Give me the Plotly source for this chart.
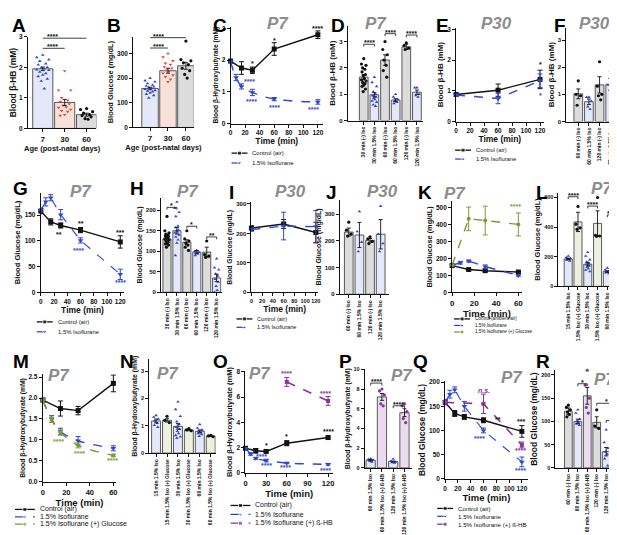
import plotly.graph_objects as go

W, H = 617, 535
FONT = "Liberation Sans, Arial, sans-serif"

BLACK = "#111111"
BLUE = "#2f46d0"
RED = "#d9483b"
OLIVE = "#7e9a33"
PURPLE = "#8b3596"
GREY_FILL = "#dcdcdc"
BLUE_FILL = "#e4e8f8"
RED_FILL = "#f8e1d9"
OLIVE_FILL = "#ecf0df"
PURPLE_FILL = "#eadbef"
TITLE_GREY = "#8d8d8d"

# ---------------- data ----------------
# A / B : age series
ages = ["7", "30", "60"]
a_mean = [1.95, 0.85, 0.45]
a_sem = [0.06, 0.1, 0.05]
a_pts = [
    [2.4, 2.32, 2.25, 2.2, 2.12, 2.08, 2.0, 1.98, 1.95, 1.92, 1.9, 1.85, 1.8, 1.75, 1.7, 1.62, 1.55, 1.3],
    [1.88, 1.25, 1.25, 1.0, 0.92, 0.88, 0.8, 0.75, 0.7, 0.68, 0.62, 0.58, 0.55, 0.45, 0.42],
    [0.65, 0.62, 0.55, 0.5, 0.45, 0.42, 0.38, 0.32, 0.3],
]
b_mean = [158, 230, 250]
b_sem = [5, 10, 14]
b_pts = [
    [200, 190, 185, 178, 172, 168, 165, 162, 158, 155, 150, 148, 145, 140, 135, 130, 120],
    [300, 285, 270, 260, 255, 245, 240, 232, 228, 220, 212, 205, 195, 185],
    [350, 275, 270, 262, 255, 240, 230, 215, 200],
]

# C : beta-HB time course, P7
c_t_ctrl = [0, 15, 30, 60, 120]
c_ctrl = [1.97, 1.75, 1.68, 2.35, 2.8]
c_ctrl_sem = [0.05, 0.2, 0.1, 0.2, 0.12]
c_t_iso = [0, 7.5, 15, 30, 60, 120]
c_iso = [1.95, 1.45, 1.17, 0.98, 0.77, 0.68]
c_iso_sem = [0.05, 0.1, 0.08, 0.1, 0.05, 0.07]
c_marks = [(30, 1.9, "*", BLACK), (60, 2.62, "*", BLACK), (120, 3.0, "****", BLACK),
           (26, 1.33, "****", BLUE), (29, 0.69, "****", BLUE), (60, 0.52, "****", BLUE), (114, 0.45, "****", BLUE)]

# D : beta-HB bars, P7
d_labels = ["30 min (-) Iso", "30 min 1.5% Iso", "60 min (-) Iso", "60 min 1.5% Iso", "120 min (-) Iso", "120 min 1.5% Iso"]
d_mean = [1.65, 0.98, 2.3, 0.78, 2.8, 1.08]
d_sem = [0.1, 0.08, 0.2, 0.05, 0.1, 0.08]
d_pts = [
    [2.35, 2.15, 2.1, 2.0, 1.95, 1.85, 1.75, 1.7, 1.6, 1.55, 1.5, 1.45, 1.4, 1.35, 1.3, 1.2, 1.1],
    [1.65, 1.45, 1.3, 1.1, 1.0, 0.95, 0.9, 0.85, 0.8, 0.75, 0.7, 0.6, 0.55],
    [3.0, 2.7, 2.5, 2.3, 2.1, 1.9, 1.65],
    [1.0, 0.9, 0.8, 0.75, 0.7, 0.65],
    [2.95, 2.85, 2.75, 2.7],
    [1.25, 1.25, 1.0, 0.95, 0.9],
]
d_sig = [(0, 1, 2.9, "****"), (2, 3, 3.3, "****"), (4, 5, 3.25, "****")]

# E / F : beta-HB, P30
e_t = [0, 60, 120]
e_ctrl = [0.88, 1.02, 1.37]
e_ctrl_sem = [0.04, 0.2, 0.3]
e_iso = [0.86, 0.75, 1.33]
e_iso_sem = [0.04, 0.17, 0.22]
e_marks = [(120, 1.85, "*", BLACK), (120, 0.85, "*", BLUE)]
f_labels = ["60 min (-) Iso", "60 min 1.5% Iso", "120 min (-) Iso", "20 min 1.5% Iso"]
f_mean = [1.02, 0.73, 1.35, 1.37]
f_sem = [0.18, 0.1, 0.3, 0.22]
f_pts = [[1.5, 1.0, 0.95, 0.6], [0.9, 0.9, 0.75, 0.55, 0.45], [2.2, 1.3, 1.0, 0.95, 0.8], [1.85, 1.35, 0.95]]

# G / H : glucose, P7
g_t_ctrl = [0, 15, 30, 60, 120]
g_ctrl = [158, 137, 130, 121, 98]
g_ctrl_sem = [5, 6, 5, 5, 12]
g_t_iso = [0, 7.5, 15, 30, 60, 120]
g_iso = [160, 176, 184, 151, 101, 35]
g_iso_sem = [4, 8, 6, 10, 5, 10]
g_marks = [(28, 113, "**", BLACK), (60, 134, "**", BLACK), (120, 117, "***", BLACK),
           (57, 81, "****", BLUE), (120, 20, "****", BLUE)]
h_labels = d_labels
h_mean = [130, 150, 122, 98, 98, 35]
h_sem = [5, 8, 6, 4, 12, 9]
h_pts = [
    [185, 150, 145, 142, 140, 138, 136, 134, 132, 130, 128, 125, 122, 120, 118, 115, 110],
    [220, 205, 195, 185, 162, 158, 152, 150, 148, 145, 140, 135, 128, 120, 90],
    [150, 130, 125, 120, 115, 110, 102],
    [102, 100, 98, 96, 94, 90],
    [125, 92, 88, 85],
    [82, 60, 55, 45, 40, 32, 25, 15, 5, 0],
]
h_sig = [(0, 1, 207, "*"), (2, 3, 161, "*"), (4, 5, 135, "**")]

# I / J : glucose, P30
i_t = [0, 60, 120]
i_ctrl = [218, 232, 203]
i_ctrl_sem = [8, 15, 35]
i_iso = [213, 225, 223]
i_iso_sem = [6, 47, 55]
j_labels = ["60 min (-) Iso", "60 min 1.5% Iso", "120 min (-) Iso", "120 min 1.5% Iso"]
j_mean = [233, 222, 202, 225]
j_sem = [15, 47, 7, 55]
j_pts = [[270, 240, 225, 218], [310, 235, 195, 160], [215, 208, 198, 190], [330, 225, 190, 160]]

# K / L : glucose with glucose supplement
k_t_ctrl = [0, 15, 30, 60]
k_ctrl = [158, 135, 128, 120]
k_ctrl_sem = [5, 5, 5, 5]
k_t_iso = [0, 7.5, 15, 30, 60]
k_iso = [160, 175, 185, 152, 100]
k_iso_sem = [4, 8, 6, 10, 5]
k_t_glu = [0, 15, 30, 60]
k_glu = [160, 435, 425, 402]
k_glu_sem = [4, 70, 85, 68]
k_marks = [(12, 546, "****", OLIVE), (28, 556, "****", OLIVE), (57, 511, "****", OLIVE)]
l_labels = ["15 min 1.5% Iso", "1.5% Iso (+) Glucose", "30 min 1.5% Iso", "1.5% Iso (+) Glucose",
            "60 min 1.5% Iso", "1.5% Iso (+) Glucose"]
l_mean = [185, 435, 150, 425, 100, 402]
l_sem = [5, 65, 12, 85, 5, 65]
l_pts = [[205, 195, 190, 185, 182, 178, 172], [540, 420, 395, 385],
         [230, 205, 180, 165, 155, 148, 140, 130, 120, 110, 100], [600, 345, 340, 338],
         [125, 112, 105, 100, 96, 92, 88], [540, 470, 350, 320]]
l_sig = [(0, 1, 605, "****"), (2, 3, 542, "****"), (4, 5, 482, "****")]

# M / N : beta-HB with glucose supplement
m_t_ctrl = [0, 15, 30, 60]
m_ctrl = [1.95, 1.75, 1.7, 2.35]
m_ctrl_sem = [0.05, 0.18, 0.1, 0.2]
m_t_iso = [0, 7.5, 15, 30, 60]
m_iso = [1.95, 1.5, 1.2, 0.98, 0.8]
m_iso_sem = [0.05, 0.08, 0.08, 0.1, 0.06]
m_t_glu = [0, 7.5, 15, 30, 60]
m_glu = [1.95, 1.48, 1.18, 0.87, 0.63]
m_glu_sem = [0.05, 0.06, 0.06, 0.06, 0.03]
m_marks = [(13, 0.97, "****", OLIVE), (31, 0.68, "****", OLIVE), (59, 0.5, "****", OLIVE)]
n_labels = ["15 min 1.5% Iso", "15 min 1.5% Iso (+) Glucose", "30 min 1.5% Iso", "30 min 1.5% Iso (+) Glucose",
            "60 min 1.5% Iso", "60 min 1.5% Iso (+) Glucose"]
n_mean = [1.18, 1.2, 0.98, 0.85, 0.8, 0.63]
n_sem = [0.07, 0.06, 0.1, 0.03, 0.05, 0.02]
n_pts = [[1.38, 1.32, 1.25, 1.18, 1.1, 1.02, 0.95], [1.35, 1.2, 1.12],
         [1.88, 1.6, 1.35, 1.15, 1.05, 0.95, 0.88, 0.8, 0.72, 0.65, 0.6, 0.55], [0.9, 0.85, 0.82],
         [1.05, 0.92, 0.85, 0.8, 0.75, 0.72, 0.68, 0.62], [0.65, 0.63, 0.6]]

# O / P : beta-HB with beta-HB supplement
o_t_ctrl = [0, 15, 30, 60, 120]
o_ctrl = [1.95, 1.75, 1.7, 2.35, 2.8]
o_ctrl_sem = [0.05, 0.18, 0.1, 0.2, 0.12]
o_t_iso = [0, 7.5, 15, 30, 60, 120]
o_iso = [1.95, 1.5, 1.15, 0.98, 0.78, 0.68]
o_iso_sem = [0.05, 0.1, 0.08, 0.1, 0.05, 0.07]
o_t_bhb = [60, 120]
o_bhb = [7.2, 5.7]
o_bhb_sem = [0.35, 0.35]
o_marks = [(30, 2.2, "*", BLACK), (60, 2.9, "*", BLACK), (120, 3.3, "****", BLACK),
           (24, 1.33, "****", BLUE), (30, 0.55, "****", BLUE), (58, 0.4, "****", BLUE), (116, 0.2, "****", BLUE),
           (60, 7.85, "****", PURPLE), (116, 6.3, "****", PURPLE)]
p_labels = ["60 min 1.5% Iso", "60 min 1.5% Iso (+) ß-HB", "120 min 1.5% Iso", "120 min 1.5% Iso (+) ß-HB"]
p_mean = [0.78, 7.2, 0.65, 5.6]
p_sem = [0.06, 0.35, 0.05, 0.4]
p_pts = [[0.95, 0.88, 0.8, 0.72, 0.62], [8.0, 7.8, 7.4, 6.5, 6.3],
         [0.9, 0.7, 0.62, 0.55, 0.5], [6.5, 6.3, 5.7, 5.0, 4.6]]
p_sig = [(0, 1, 8.6, "****"), (2, 3, 6.3, "****")]

# Q / R : glucose with beta-HB supplement
q_t_ctrl = [0, 15, 30, 60, 120]
q_ctrl = [158, 135, 128, 121, 98]
q_ctrl_sem = [5, 6, 5, 5, 12]
q_t_iso = [0, 7.5, 15, 30, 60, 120]
q_iso = [160, 175, 184, 150, 100, 35]
q_iso_sem = [4, 8, 6, 10, 5, 10]
q_t_bhb = [0, 60, 120]
q_bhb = [158, 155, 70]
q_bhb_sem = [4, 20, 6]
q_marks = [(60, 182, "<i>n.s.</i>", PURPLE), (82, 122, "**", BLACK), (118, 119, "***", BLACK),
           (118, 58, "****", PURPLE), (53, 83, "****", BLUE), (118, 18, "****", BLUE)]
r_labels = ["60 min (-) Iso", "60 min 1.5% Iso", "60 min 1.5% Iso (+) ß-HB",
            "120 min (-) Iso", "120 min 1.5% Iso", "120 min 1.5% Iso (+) ß-HB"]
r_mean = [122, 100, 155, 98, 35, 68]
r_sem = [7, 5, 18, 12, 9, 5]
r_pts = [[135, 130, 125, 120, 115, 110], [125, 118, 105, 100, 97, 95, 92], [210, 178, 150, 130, 118],
         [125, 90, 85], [82, 55, 42, 35, 30, 20, 5], [80, 75, 70, 66, 60, 55]]
r_sig = [(1, 2, 181, "*"), (3, 5, 139, "*"), (4, 5, 102, "*")]

# ---------------- drawing helpers ----------------
fig = go.Figure()
layout = {}
annotations = []
shapes = []


def ids(n):
    s = "" if n == 1 else str(n)
    return "xaxis" + s, "yaxis" + s, "x" + s, "y" + s


def add_axes(n, box, xr, yr, yticks, xticks, xlabels=None, xtitle="", ytitle="",
             xts=8, yts=7.5, tick_size=6.5, xlab_size=6.5, yfmt=None):
    x0, x1, y0, y1 = box
    xa, ya, xref, yref = ids(n)
    common = dict(showline=True, linecolor=BLACK, linewidth=1, ticks="outside", ticklen=3,
                  tickwidth=1, tickcolor=BLACK, showgrid=False, zeroline=False, fixedrange=True)
    xd = dict(common, domain=[x0 / W, x1 / W], range=xr, anchor=yref, tickmode="array",
              tickvals=xticks, tickfont=dict(size=xlab_size, color=BLACK), tickangle=0,
              title=dict(text="<b>%s</b>" % xtitle if xtitle else "", font=dict(size=xts), standoff=1))
    if xlabels is not None:
        xd["ticktext"] = ["<b>%s</b>" % s for s in xlabels]
        xd["tickangle"] = -90 if len(xlabels[0]) > 3 else 0
    else:
        xd["ticktext"] = ["<b>%s</b>" % v for v in xticks]
    yd = dict(common, domain=[1 - y1 / H, 1 - y0 / H], range=yr, anchor=xref, tickmode="array",
              tickvals=yticks, tickfont=dict(size=tick_size, color=BLACK),
              ticktext=["<b>%s</b>" % (format(v, yfmt) if yfmt else v) for v in yticks],
              title=dict(text="<b>%s</b>" % ytitle, font=dict(size=yts), standoff=2))
    layout[xa] = xd
    layout[ya] = yd


def jitter(center, n, spread):
    pattern = [0, -1, 1, -0.5, 0.5, -0.75, 0.75, -0.25, 0.25, -1, 1, -0.5, 0.5, 0, -0.75, 0.75, -0.25, 0.25]
    return [center + spread * pattern[i % len(pattern)] for i in range(n)]


def bar_panel(n, means, sems, pts, fills, pcolors, psyms, bw=0.82, spread=0.26, msize=3.2):
    _, _, xref, yref = ids(n)
    xs = list(range(len(means)))
    fig.add_trace(go.Bar(x=xs, y=means, width=bw, xaxis=xref, yaxis=yref,
                         marker=dict(color=fills, line=dict(color="#333333", width=0.8)), showlegend=False))
    for i, vals in enumerate(pts):
        fig.add_trace(go.Scatter(x=jitter(i, len(vals), spread * bw), y=vals, mode="markers",
                                 xaxis=xref, yaxis=yref, cliponaxis=False, showlegend=False,
                                 marker=dict(color=pcolors[i], symbol=psyms[i], size=msize, line=dict(width=0))))
    fig.add_trace(go.Scatter(x=xs, y=means, mode="markers", xaxis=xref, yaxis=yref, showlegend=False,
                             marker=dict(size=1, color="rgba(0,0,0,0)"),
                             error_y=dict(type="data", array=sems, color=BLACK, thickness=0.9, width=2)))


def brackets(n, sig, yspan, tick=True, size=7, text_x=None):
    _, _, xref, yref = ids(n)
    h = 0.025 * yspan if tick else 0
    for xa, xb, y, txt in sig:
        shapes.append(dict(type="path", xref=xref, yref=yref,
                           path="M %f,%f L %f,%f L %f,%f L %f,%f" % (xa, y - h, xa, y, xb, y, xb, y - h),
                           line=dict(color=BLACK, width=0.8)))
        tx = (xa + xb) / 2 if text_x is None else text_x
        annotations.append(dict(x=tx, y=y, xref=xref, yref=yref, text="<b>%s</b>" % txt, showarrow=False,
                                yanchor="bottom", yshift=-4, font=dict(size=size, color=BLACK)))


def series(n, t, y, err, color, dash, symbol, width=1.4, shape="linear", msize=5):
    _, _, xref, yref = ids(n)
    fig.add_trace(go.Scatter(x=t, y=y, mode="lines+markers", xaxis=xref, yaxis=yref, cliponaxis=False,
                             showlegend=False, line=dict(color=color, dash=dash, width=width, shape=shape),
                             marker=dict(color=color, symbol=symbol, size=msize),
                             error_y=dict(type="data", array=err, color=color, thickness=1, width=2.5)))


def marks(n, items, size=7):
    _, _, xref, yref = ids(n)
    for x, y, txt, col in items:
        annotations.append(dict(x=x, y=y, xref=xref, yref=yref, text="<b>%s</b>" % txt, showarrow=False,
                                font=dict(size=size, color=col)))


# overlay axis in pixel units for legends
layout["xaxis19"] = dict(domain=[0, 1], range=[0, W], visible=False, fixedrange=True, anchor="y19")
layout["yaxis19"] = dict(domain=[0, 1], range=[H, 0], visible=False, fixedrange=True, anchor="x19")


def legend(x, y, dy, entries, size=6, ll=16):
    for k, (name, col, dash, sym) in enumerate(entries):
        yy = y + k * dy
        fig.add_trace(go.Scatter(x=[x, x + ll / 2, x + ll], y=[yy, yy, yy], mode="lines+markers",
                                 xaxis="x19", yaxis="y19", showlegend=False, hoverinfo="skip",
                                 line=dict(color=col, dash=dash, width=1.3),
                                 marker=dict(color=col, symbol=sym, size=[0, 4, 0])))
        annotations.append(dict(x=x + ll + 3, y=yy, xref="x19", yref="y19", text=name, showarrow=False,
                                xanchor="left", yanchor="middle", font=dict(size=size, color=BLACK)))


def label(x, y, txt):
    annotations.append(dict(x=x / W, y=1 - y / H, xref="paper", yref="paper", text="<b>%s</b>" % txt,
                            showarrow=False, xanchor="left", yanchor="top", font=dict(size=19, color="black")))


def age_title(x, y, txt, size=17):
    annotations.append(dict(x=x / W, y=1 - y / H, xref="paper", yref="paper", text="<b><i>%s</i></b>" % txt,
                            showarrow=False, xanchor="center", yanchor="middle",
                            font=dict(size=size, color=TITLE_GREY)))


CTRL = ("Control (air)", BLACK, "solid", "square")
ISO = ("1.5% Isoflurane", BLUE, "dash", "triangle-down")
t120 = [0, 20, 40, 60, 80, 100, 120]
GLU_T = "Blood Glucose (mg/dL)"
HB_T = "Blood β-HB (mM)"
HBL_T = "Blood β-Hydroxybutyrate (mM)"

# A
add_axes(1, (18, 87, 25, 118), [-0.68, 2.45], [0, 3], [0, 1, 2, 3], [0, 1, 2], ages,
         xtitle="Age (post-natal days)", ytitle=HB_T, xts=7.5, yts=8.5, xlab_size=8)
bar_panel(1, a_mean, a_sem, a_pts, [BLUE_FILL, RED_FILL, GREY_FILL], [BLUE, RED, BLACK],
          ["triangle-up", "triangle-down", "circle"], bw=0.92, spread=0.3)
brackets(1, [(0, 2, 2.95, "****"), (0, 1, 2.62, "****")], 3, tick=False, text_x=0.43)
# B
add_axes(2, (124, 185, 25, 117), [-0.94, 2.44], [0, 368], [0, 100, 200, 300], [0, 1, 2], ages,
         xtitle="Age (post-natal days)", ytitle=GLU_T, xts=7.5, yts=7.5, xlab_size=8)
bar_panel(2, b_mean, b_sem, b_pts, [BLUE_FILL, RED_FILL, GREY_FILL], [BLUE, RED, BLACK],
          ["triangle-up", "triangle-down", "circle"], bw=0.92, spread=0.3)
brackets(2, [(0, 2, 364, "****"), (0, 1, 322, "****")], 368, tick=False, text_x=0.45)
# C
add_axes(3, (222, 315, 15, 113), [0, 127], [0, 3.05], [0, 1, 2, 3], t120,
         xtitle="Time (min)", ytitle=HBL_T, xts=8.5, yts=6.6)
series(3, c_t_ctrl, c_ctrl, c_ctrl_sem, BLACK, "solid", "square")
series(3, c_t_iso, c_iso, c_iso_sem, BLUE, "dash", "triangle-down", shape="spline")
marks(3, c_marks)
legend(223, 143, 10, [CTRL, ISO], size=6)
# D
add_axes(4, (340, 416, 14, 110), [-1.5, 5.6], [0, 3.6], [0, 1, 2, 3], list(range(6)), d_labels,
         ytitle=HB_T, yts=8, xlab_size=5, tick_size=6)
bar_panel(4, d_mean, d_sem, d_pts, [GREY_FILL, BLUE_FILL] * 3, [BLACK, BLUE] * 3, ["circle", "triangle-up"] * 3)
brackets(4, d_sig, 3.6)
# E
add_axes(5, (449, 537, 16, 111), [0, 125], [0, 3.05], [0, 1, 2, 3], t120,
         xtitle="Time (min)", ytitle=HB_T, xts=8.5, yts=8)
series(5, e_t, e_ctrl, e_ctrl_sem, BLACK, "solid", "square")
series(5, e_t, e_iso, e_iso_sem, BLUE, "dash", "triangle-down")
marks(5, e_marks)
legend(448, 140, 9, [CTRL, ISO], size=5.8)
# F
add_axes(6, (560, 613, 16, 111), [-1.12, 3.83], [0, 3.45], [0, 1, 2, 3], list(range(4)), f_labels,
         ytitle=HB_T, yts=8, xlab_size=5, tick_size=6)
bar_panel(6, f_mean, f_sem, f_pts, [GREY_FILL, BLUE_FILL] * 2, [BLACK, BLUE] * 2, ["circle", "triangle-up"] * 2)
# G
add_axes(7, (31, 115, 183, 284), [0, 126], [0, 194], [0, 50, 100, 150], t120,
         xtitle="Time (min)", ytitle=GLU_T, xts=8.5, yts=7.6)
series(7, g_t_ctrl, g_ctrl, g_ctrl_sem, BLACK, "solid", "square")
series(7, g_t_iso, g_iso, g_iso_sem, BLUE, "dash", "triangle-down", width=1.1)
marks(7, g_marks)
legend(27, 314, 10, [CTRL, ISO], size=5.9)
# H
add_axes(8, (152, 213, 188, 284), [-0.6, 5.5], [0, 231], [0, 50, 100, 150, 200], list(range(6)), h_labels,
         ytitle=GLU_T, yts=7, xlab_size=5, tick_size=6)
bar_panel(8, h_mean, h_sem, h_pts, [GREY_FILL, BLUE_FILL] * 3, [BLACK, BLUE] * 3, ["circle", "triangle-up"] * 3)
brackets(8, h_sig, 231)
# I
add_axes(9, (243, 310, 193, 284), [0, 124], [0, 305], [0, 100, 200, 300], t120,
         xtitle="Time (min)", ytitle=GLU_T, xts=8.5, yts=6.8, xlab_size=5.5, tick_size=6)
series(9, i_t, i_ctrl, i_ctrl_sem, BLACK, "solid", "square")
series(9, i_t, i_iso, i_iso_sem, BLUE, "dash", "triangle-down")
legend(228, 311, 8.5, [CTRL, ISO], size=5.7)
# J
add_axes(10, (332, 381, 190, 286), [-0.84, 3.74], [0, 355], [0, 100, 200, 300], list(range(4)), j_labels,
         ytitle=GLU_T, yts=7, xlab_size=5, tick_size=6)
bar_panel(10, j_mean, j_sem, j_pts, [GREY_FILL, BLUE_FILL] * 2, [BLACK, BLUE] * 2, ["circle", "triangle-up"] * 2)
# K
add_axes(11, (445, 515, 192, 284), [0, 63], [0, 538], [0, 100, 200, 300, 400, 500], [0, 20, 40, 60],
         xtitle="Time (min)", ytitle=GLU_T, xts=9.5, yts=7.4, xlab_size=8)
series(11, k_t_ctrl, k_ctrl, k_ctrl_sem, BLACK, "solid", "square")
series(11, k_t_iso, k_iso, k_iso_sem, BLUE, "dash", "triangle-down")
series(11, k_t_glu, k_glu, k_glu_sem, OLIVE, "dash", "circle", msize=4)
marks(11, k_marks)
legend(447, 311, 6.6, [("Control (ambient air)", BLACK, "solid", "square"), ISO,
                       ("1.5% Isoflurane (+) Glucose", OLIVE, "dash", "circle")], size=4.6)
# L
add_axes(12, (552, 617, 183, 278), [-1.0, 5.6], [0, 633], [0, 200, 400, 600], list(range(6)), l_labels,
         ytitle=GLU_T, yts=7.5, xlab_size=5, tick_size=5.5)
bar_panel(12, l_mean, l_sem, l_pts, [BLUE_FILL, OLIVE_FILL] * 3, [BLUE, BLACK] * 3, ["triangle-up", "circle"] * 3)
brackets(12, l_sig, 633)
# M
add_axes(13, (33, 107, 367, 476), [0, 62.5], [0, 2.57], [0, 0.5, 1.0, 1.5, 2.0, 2.5], [0, 20, 40, 60],
         xtitle="Time (min)", ytitle=HBL_T, xts=9.5, yts=6.8, xlab_size=7.5, yfmt=".1f")
series(13, m_t_ctrl, m_ctrl, m_ctrl_sem, BLACK, "solid", "square")
series(13, m_t_iso, m_iso, m_iso_sem, BLUE, "dash", "triangle-down", shape="spline")
series(13, m_t_glu, m_glu, m_glu_sem, OLIVE, "dash", "circle", shape="spline", msize=4)
marks(13, m_marks)
legend(5, 504, 7.5, [CTRL, ISO, ("1.5% Isoflurane (+) Glucose", OLIVE, "dash", "circle")], size=7, ll=20)
# N
add_axes(14, (140, 207, 352, 447), [-0.64, 5.45], [0, 3.43], [0, 1, 2, 3], list(range(6)), n_labels,
         ytitle=HBL_T, yts=6.9, xlab_size=5, tick_size=5.5)
bar_panel(14, n_mean, n_sem, n_pts, [BLUE_FILL, OLIVE_FILL] * 3, [BLUE, BLACK] * 3, ["triangle-up", "circle"] * 3)
# O
add_axes(15, (237, 325, 364, 467), [0, 127], [0, 8.05], [0, 2, 4, 6, 8], [0, 30, 60, 90, 120],
         xtitle="Time (min)", ytitle=HBL_T, xts=9.5, yts=7.5, xlab_size=7.5)
series(15, o_t_ctrl, o_ctrl, o_ctrl_sem, BLACK, "solid", "square")
series(15, o_t_iso, o_iso, o_iso_sem, BLUE, "dash", "triangle-down", shape="spline")
series(15, o_t_bhb, o_bhb, o_bhb_sem, PURPLE, "dash", "square", width=1.6, msize=4)
marks(15, o_marks)
legend(222, 500, 9, [CTRL, ISO, ("1.5% Isoflurane (+) ß-HB", PURPLE, "dash", "square")], size=7, ll=20)
# P
add_axes(16, (357, 405, 362, 462), [-0.53, 3.7], [0, 10], [0, 2, 4, 6, 8, 10],
         list(range(4)), p_labels, ytitle=HBL_T, yts=6.9, xlab_size=5, tick_size=5.5)
bar_panel(16, p_mean, p_sem, p_pts, [BLUE_FILL, PURPLE_FILL] * 2, [BLUE, PURPLE] * 2, ["triangle-up", "circle"] * 2)
brackets(16, p_sig, 10)
# Q
add_axes(17, (438, 521, 374, 473), [0, 129], [0, 202], [0, 50, 100, 150, 200], t120,
         xtitle="Time (min)", ytitle=GLU_T, xts=9.5, yts=8.4, xlab_size=6.5)
series(17, q_t_ctrl, q_ctrl, q_ctrl_sem, BLACK, "solid", "square")
series(17, q_t_iso, q_iso, q_iso_sem, BLUE, "dash", "triangle-down", width=1.1)
series(17, q_t_bhb, q_bhb, q_bhb_sem, PURPLE, "dash", "square", width=1.6, msize=4)
marks(17, q_marks)
legend(430, 503, 8, [CTRL, ISO, ("1.5% Isoflurane (+) ß-HB", PURPLE, "dash", "square")], size=6.2)
# R
add_axes(18, (549, 615, 363, 462), [-1.37, 5.57], [0, 210], [0, 50, 100, 150, 200], list(range(6)), r_labels,
         ytitle=GLU_T, yts=8.5, xlab_size=5, tick_size=5.5)
bar_panel(18, r_mean, r_sem, r_pts, [GREY_FILL, BLUE_FILL, PURPLE_FILL] * 2, [BLACK, BLUE, PURPLE] * 2,
          ["circle", "triangle-up", "circle"] * 2)
brackets(18, r_sig, 210)

for x, y, t in [(0, 1, "A"), (96, 1, "B"), (202, 1, "C"), (321, 1, "D"), (427, 1, "E"), (546, 1, "F"),
                (1, 166, "G"), (119, 166, "H"), (218, 170, "I"), (316, 170, "J"), (409, 170, "K"), (527, 170, "L"),
                (1, 341, "M"), (109, 341, "N"), (202, 341, "O"), (329, 341, "P"), (404, 341, "Q"), (527, 341, "R")]:
    label(x, y, t)

for x, y, t in [(270, 12, "P7"), (368, 12, "P7"), (490, 12, "P30"), (588, 12, "P30"),
                (71, 182, "P7"), (179, 182, "P7"), (282, 182, "P30"), (375, 182, "P30"),
                (448, 184, "P7"), (596, 179, "P7"), (49, 368, "P7"), (159, 366, "P7"),
                (252, 366, "P7"), (395, 368, "P7"), (505, 370, "P7"), (599, 372, "P7")]:
    age_title(x, y, t)

layout.update(width=W, height=H, margin=dict(l=0, r=0, t=0, b=0), autosize=False,
              paper_bgcolor="white", plot_bgcolor="rgba(0,0,0,0)", showlegend=False,
              font=dict(family=FONT, color=BLACK, size=7), annotations=annotations, shapes=shapes,
              barmode="overlay")
fig.update_layout(**layout)
fig.write_html("out.html")
